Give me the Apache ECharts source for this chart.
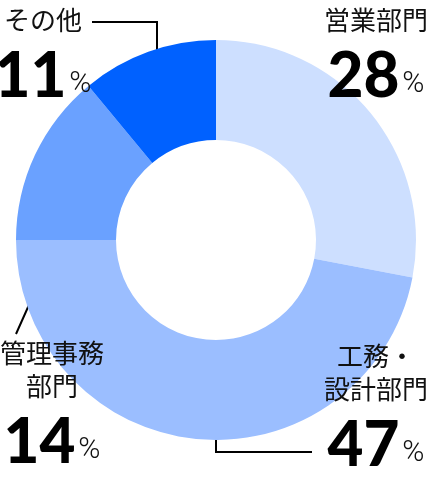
<!DOCTYPE html>
<html>
<head>
<meta charset="utf-8">
<script src="https://cdn.jsdelivr.net/npm/echarts@6/dist/echarts.min.js"></script>
<style>
html,body{margin:0;padding:0;background:#fff;}
#c{width:432px;height:480px;}
</style>
</head>
<body>
<div id="c"></div>
<script>
// ---- data ----
const categories = ['営業部門', '工務・設計部門', '管理事務部門', 'その他'];
const labelTexts = [['営業部門'], ['工務・', '設計部門'], ['管理事務', '部門'], ['その他']];
const values = [28, 47, 14, 11];
const sliceColors = ['#cddfff', '#9bbeff', '#6aa1ff', '#0061ff'];

// ---- layout (label anchor: top-center) ----
const labelAnchors = [[376, 4], [376, 340], [52, 337], [43, 4]];
const leaderLines = [
  [[349, 105], [341, 121], [333, 138]],
  [[216, 411], [216, 452], [312, 452]],
  [[66, 223], [41, 278], [16, 334]],
  [[92, 22], [157, 22], [157, 74]]
];

const chart = echarts.init(document.getElementById('c'), null, {renderer: 'canvas'});
const data = categories.map((c, i) => ({
  name: c,
  value: values[i],
  itemStyle: {color: sliceColors[i]}
}));

chart.setOption({
  animation: false,
  series: [{
    type: 'pie',
    center: [216, 240],
    radius: [100, 200],
    startAngle: 90,
    clockwise: true,
    avoidLabelOverlap: false,
    data: data,
    itemStyle: {borderWidth: 0},
    emphasis: {disabled: true},
    label: {
      show: true,
      position: 'outside',
      align: 'center',
      verticalAlign: 'top',
      formatter: function (p) {
        const lines = labelTexts[p.dataIndex].map(t => '{name|' + t + '}');
        return lines.join('\n') + '\n{num|' + p.value + '}{pct|%}';
      },
      rich: {
        name: {fontSize: 26, lineHeight: 33, fontFamily: 'Noto Sans CJK JP', color: '#111', align: 'center'},
        num: {fontSize: 62, lineHeight: 80, fontWeight: 900, fontFamily: 'Lato', color: '#000'},
        pct: {fontSize: 30, lineHeight: 30, fontWeight: 300, fontFamily: 'Roboto', color: '#111', verticalAlign: 'bottom', padding: [0, 0, 18, 3]}
      }
    },
    labelLine: {show: true, lineStyle: {color: '#000', width: 2}},
    labelLayout: function (params) {
      const i = params.dataIndex;
      return {
        x: labelAnchors[i][0],
        y: labelAnchors[i][1],
        align: 'center',
        verticalAlign: 'top',
        labelLinePoints: leaderLines[i]
      };
    }
  }]
});
</script>
</body>
</html>
